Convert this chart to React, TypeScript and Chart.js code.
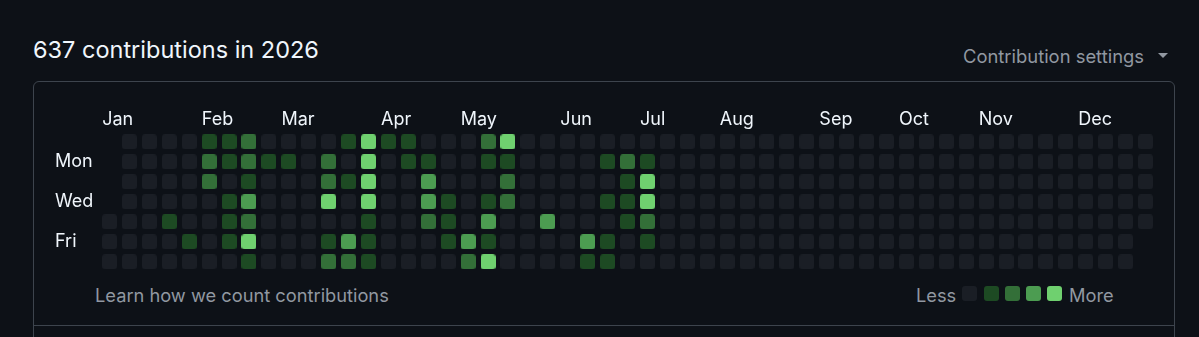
import React, { useEffect, useRef } from 'react';
import { Chart, registerables } from 'chart.js';

Chart.register(...registerables);

const titleText = '637 contributions in 2026';
const monthLabels = ['Jan', 'Feb', 'Mar', 'Apr', 'May', 'Jun', 'Jul', 'Aug', 'Sep', 'Oct', 'Nov', 'Dec'];
const monthWeeks = [0, 5, 9, 14, 18, 23, 27, 31, 36, 40, 44, 49];
const dayLabels = ['Mon', 'Wed', 'Fri'];
const dayRows = [1, 3, 5];

// contribution level (0-4) for each of the 53 week columns; '.' = day outside 2026
const sunLevels = '.000011200 0014110002 4000000000 0000000000 0000000000 000';
const monLevels = '.000021211 0204011001 1000012100 0000000000 0000000000 000';
const tueLevels = '.000020100 0214003000 2000001400 0000000000 0000000000 000';
const wedLevels = '.000001300 0404003101 2000011400 0000000000 0000000000 000';
const thuLevels = '0001001200 0001002103 0030001200 0000000000 0000000000 000';
const friLevels = '0000101400 0131000131 0000310100 0000000000 0000000000 00.';
const satLevels = '0000000100 0221000024 0000110000 0000000000 0000000000 00.';
const weekdayRows = [sunLevels, monLevels, tueLevels, wedLevels, thuLevels, friLevels, satLevels];

const levelColors = ['#1a1e25', '#1d4a23', '#336f38', '#4c9c51', '#6fd06f'];

const points: { x: number; y: number; v: number }[] = [];
weekdayRows.forEach((row, day) => {
  const chars = row.replace(/ /g, '');
  for (let w = 0; w < chars.length; w++) {
    if (chars[w] !== '.') points.push({ x: w, y: day, v: Number(chars[w]) });
  }
});

function makeCell(color: string) {
  const c = document.createElement('canvas');
  c.width = 15;
  c.height = 15;
  const ctx = c.getContext('2d')!;
  ctx.fillStyle = color;
  ctx.beginPath();
  (ctx as any).roundRect(0, 0, 15, 15, 3);
  ctx.fill();
  return c;
}

const FONT = 'Inter, "Noto Sans", "Liberation Sans", sans-serif';
const TEXT = '#f0f6fc';
const MUTED = '#9198a1';
const BORDER = '#3d444d';

export default function App() {
  const ref = useRef<HTMLCanvasElement>(null);

  useEffect(() => {
    const cells = levelColors.map(makeCell);
    const chart = new Chart(ref.current!, {
      type: 'scatter',
      data: {
        datasets: [
          {
            data: points as any,
            pointStyle: ((c: any) => cells[c.raw ? c.raw.v : 0]) as any,
            pointRadius: 7.5,
            pointHoverRadius: 7.5,
            clip: false as any,
          },
        ],
      },
      options: {
        animation: false,
        responsive: false,
        events: [],
        layout: { padding: { left: 55, top: 100, right: 43.54, bottom: 65.2 } },
        plugins: { legend: { display: false }, tooltip: { enabled: false } },
        scales: {
          x: {
            type: 'linear',
            position: 'top',
            min: -0.5,
            max: 52.5,
            grid: { display: false, drawTicks: false },
            border: { display: false },
            afterBuildTicks: (s: any) => {
              s.ticks = monthWeeks.map((w) => ({ value: w - 0.37 }));
            },
            afterFit: (s: any) => {
              s.height = 31.8;
            },
            ticks: {
              autoSkip: false,
              maxRotation: 0,
              minRotation: 0,
              align: 'start',
              padding: 1.5,
              color: TEXT,
              font: { family: FONT, size: 18 },
              callback: (_v: any, i: number) => monthLabels[i],
            },
          },
          y: {
            type: 'linear',
            reverse: true,
            min: -0.5,
            max: 6.5,
            grid: { display: false, drawTicks: false },
            border: { display: false },
            afterBuildTicks: (s: any) => {
              s.ticks = dayRows.map((r) => ({ value: r }));
            },
            afterFit: (s: any) => {
              s.width = 44.54;
            },
            ticks: {
              autoSkip: false,
              crossAlign: 'far',
              padding: 0,
              color: TEXT,
              font: { family: FONT, size: 18 },
              callback: (_v: any, i: number) => dayLabels[i],
            },
          },
        },
      } as any,
    });
    return () => chart.destroy();
  }, []);

  const legendLefts = [962, 983.5, 1004.7, 1026, 1047.3];

  return (
    <div style={{ position: 'fixed', inset: 0, background: '#0d1117', fontFamily: FONT, overflow: 'hidden' }}>
      <div style={{ position: 'absolute', left: 33, top: 38, fontSize: 23.5, lineHeight: '23.5px', color: TEXT, whiteSpace: 'nowrap' }}>
        {titleText}
      </div>
      <div style={{ position: 'absolute', left: 963, top: 46.5, fontSize: 18.4, lineHeight: '18px', color: MUTED, whiteSpace: 'nowrap' }}>
        Contribution settings
      </div>
      <div
        style={{
          position: 'absolute',
          left: 1158,
          top: 53,
          width: 0,
          height: 0,
          borderLeft: '5px solid transparent',
          borderRight: '5px solid transparent',
          borderTop: '5px solid ' + MUTED,
        }}
      />
      <div
        style={{
          position: 'absolute',
          left: 33,
          top: 81,
          width: 1142,
          height: 320,
          boxSizing: 'border-box',
          border: '1px solid ' + BORDER,
          borderRadius: 6,
        }}
      />
      <div style={{ position: 'absolute', left: 33, top: 325, width: 1142, height: 1, background: BORDER }} />
      <div style={{ position: 'absolute', left: 95, top: 285.5, fontSize: 18.25, lineHeight: '18px', color: MUTED, whiteSpace: 'nowrap' }}>
        Learn how we count contributions
      </div>
      <div style={{ position: 'absolute', left: 916, top: 285.5, fontSize: 18.25, lineHeight: '18px', color: MUTED }}>Less</div>
      {levelColors.map((c, i) => (
        <div
          key={i}
          style={{ position: 'absolute', left: legendLefts[i], top: 286, width: 15, height: 15, borderRadius: 3, background: c }}
        />
      ))}
      <div style={{ position: 'absolute', left: 1069, top: 285.5, fontSize: 18.25, lineHeight: '18px', color: MUTED }}>More</div>
      <canvas ref={ref} width={1199} height={337} style={{ position: 'absolute', left: 0, top: 0 }} />
    </div>
  );
}
